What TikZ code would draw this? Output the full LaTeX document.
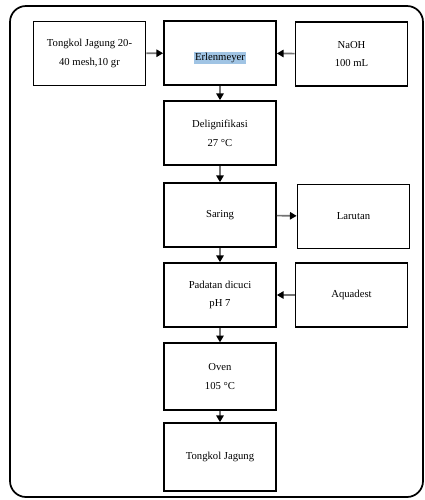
\documentclass[tikz,border=0pt]{standalone}
\usepackage{fontspec}
\setmainfont{Liberation Serif}
\usetikzlibrary{arrows.meta}
\definecolor{hl}{RGB}{160,196,228}
\begin{document}
\begin{tikzpicture}[x=0.75pt,y=-0.75pt,
  box/.style={draw=black,line width=1.3pt,minimum width=84pt,minimum height=48pt,inner sep=0pt,align=center,font=\fontsize{8}{14}\selectfont},
  arr/.style={draw=black!55,line width=1.2pt,-{Triangle[length=5pt,width=5.5pt,color=black]}}]
\useasboundingbox (0,0) rectangle (425,500);
\draw[line width=1.3pt,rounded corners=12pt] (10,6) rectangle (423,497);
\node[box] (tj) at (89.5,53.5) {Tongkol Jagung 20-\\40 mesh,10 gr};
\node[box] (er) at (220,53) {\raisebox{-5.6pt}[0pt][0pt]{\setlength{\fboxsep}{0.6pt}\colorbox{hl}{Erlenmeyer}}};
\node[box] (na) at (351.5,54) {NaOH\\100 mL};
\node[box] (de) at (220,133) {Delignifikasi\\27 °C};
\node[box] (sa) at (220,215) {Saring};
\node[box] (la) at (353.5,216.5) {Larutan};
\node[box] (pa) at (220,295) {Padatan dicuci\\pH 7};
\node[box] (aq) at (351.5,295) {Aquadest};
\node[box,minimum height=50pt] (ov) at (220,376.5) {Oven\\105 °C};
\node[box,minimum height=51pt] (to) at (220,457) {Tongkol Jagung};
\draw[arr] (tj) -- (er);
\draw[arr] (na) -- (er);
\draw[arr] (er) -- (de);
\draw[arr] (de) -- (sa);
\draw[arr] (sa) -- (la);
\draw[arr] (sa) -- (pa);
\draw[arr] (aq) -- (pa);
\draw[arr] (pa) -- (ov);
\draw[arr] (ov) -- (to);
\end{tikzpicture}
\end{document}
